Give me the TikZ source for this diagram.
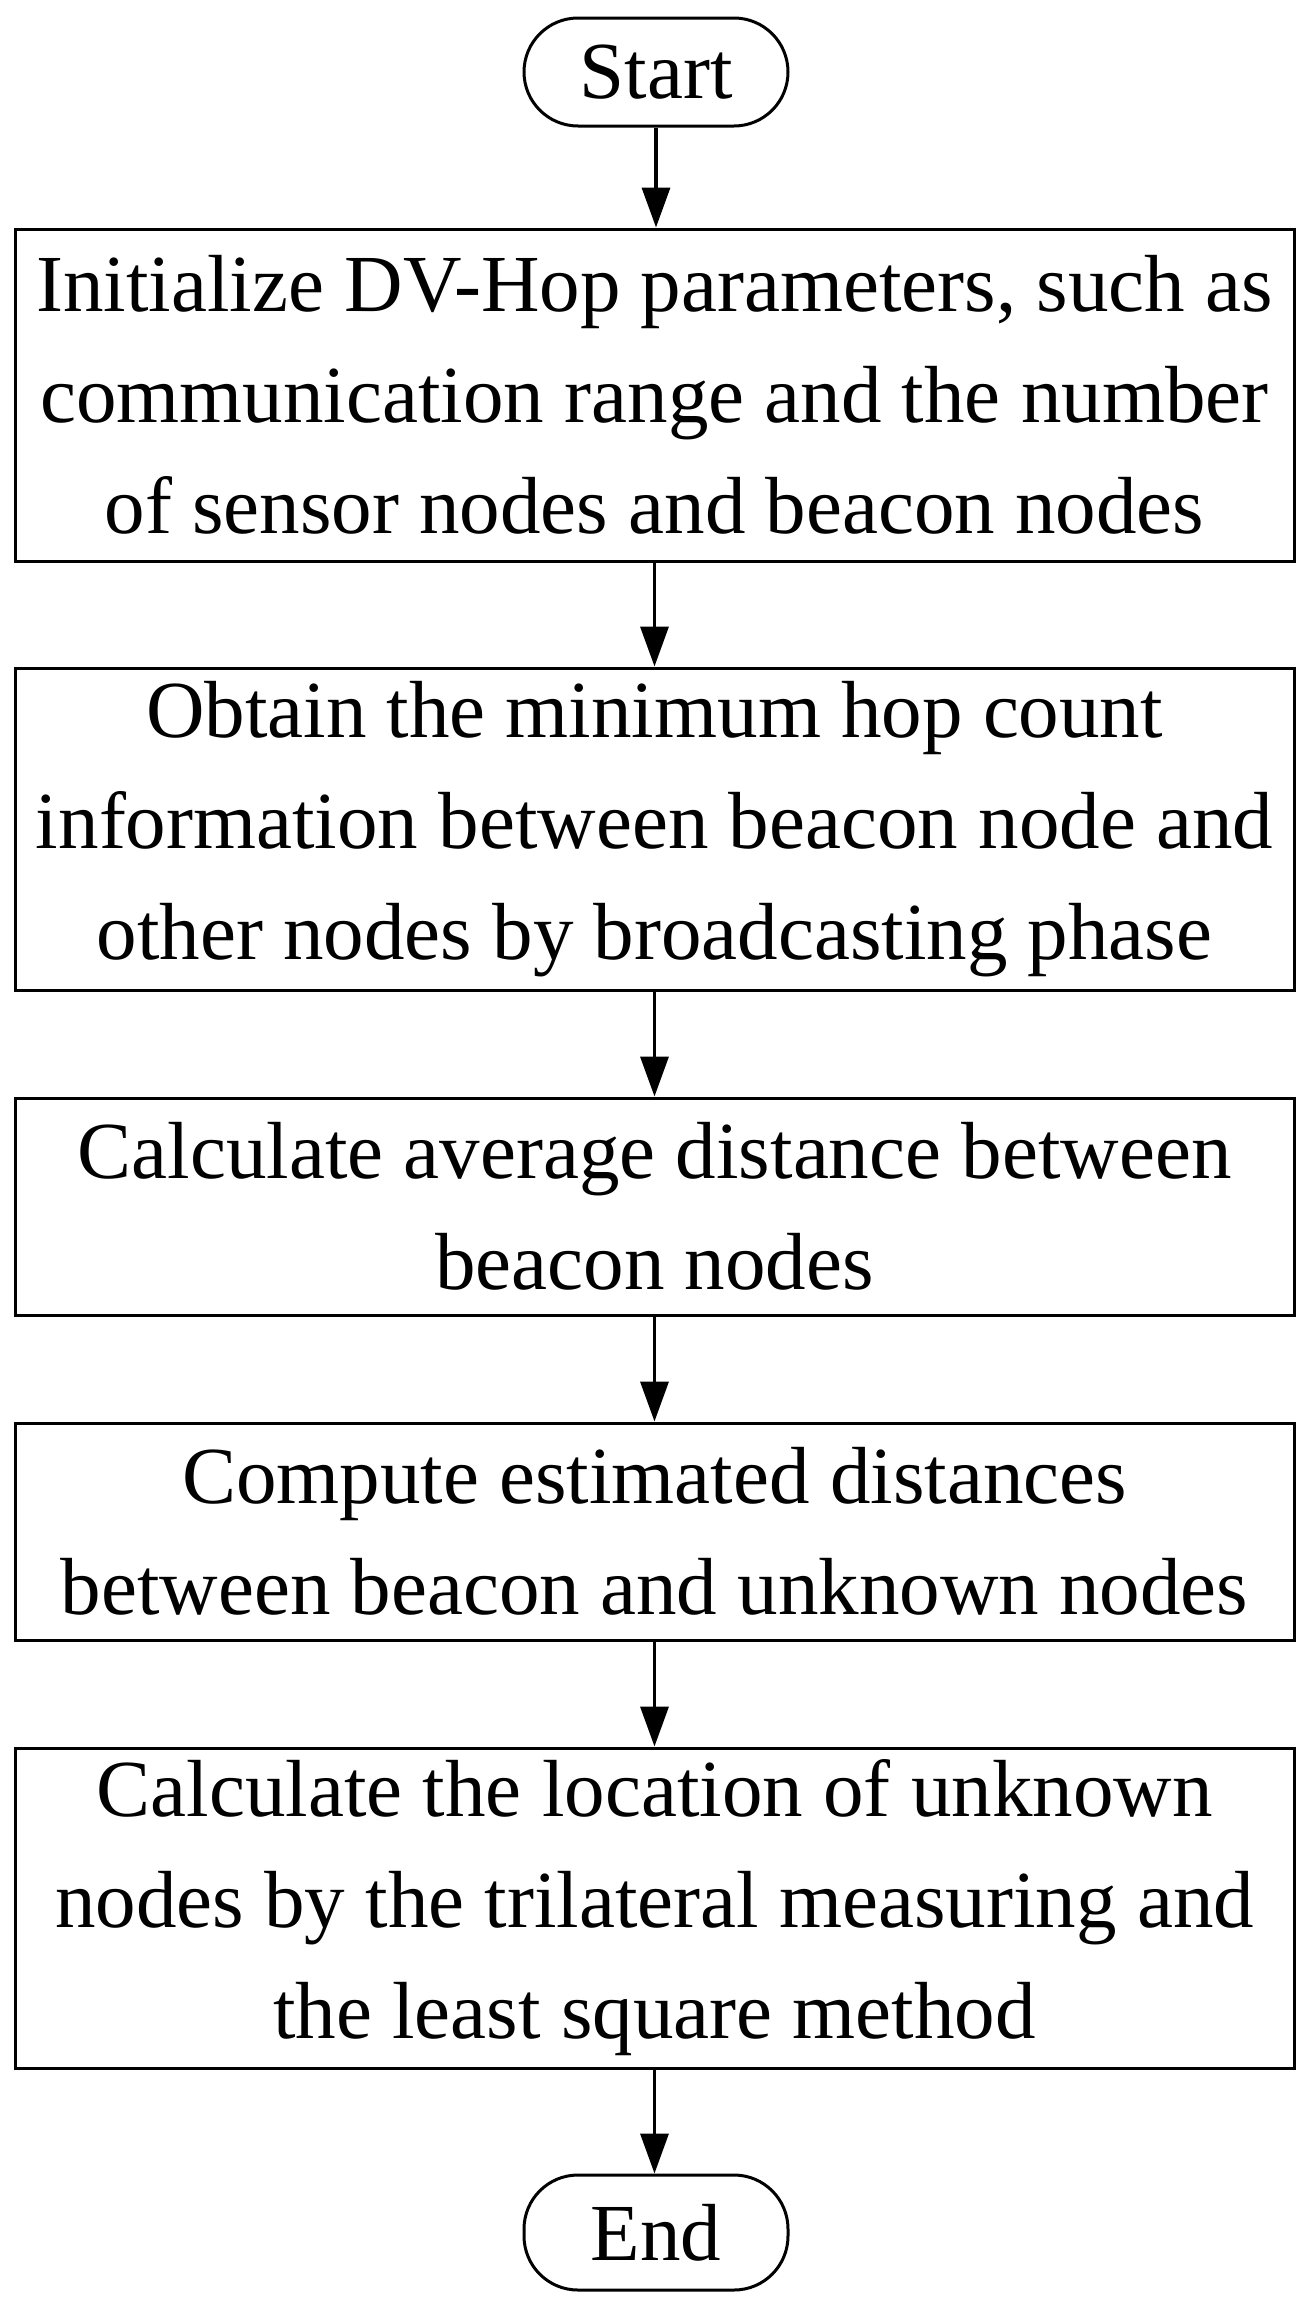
\documentclass[tikz,border=0pt]{standalone}
\usepackage{fontspec}
\setmainfont{Liberation Serif}
\usetikzlibrary{arrows.meta}
\begin{document}
\begin{tikzpicture}[x=1pt,y=-1pt,
  box/.style={draw,line width=3pt,minimum width=1279pt,align=center,font=\fontsize{81}{111}\selectfont,inner sep=0pt},
  term/.style={draw,line width=3pt,rounded corners=54pt,minimum width=264pt,minimum height=108pt,font=\fontsize{81}{111}\selectfont,inner sep=0pt},
  arr/.style={line width=3.5pt,-{Triangle[length=40pt,width=28pt]}}]
\useasboundingbox (0,0) rectangle (1312,2318);
\node[term] (s) at (656,72) {Start};
\node[box,minimum height=332pt] (b1) at (654.5,395) {Initialize DV-Hop parameters, such as\\communication range and the number\\of sensor nodes and beacon nodes};
\node[box,minimum height=322pt] (b2) at (654.5,829) {Obtain the minimum hop count\\information between beacon node and\\other nodes by broadcasting phase};
\node[box,minimum height=217pt] (b3) at (654.5,1206.5) {Calculate average distance between\\beacon nodes};
\node[box,minimum height=217pt] (b4) at (654.5,1531.5) {Compute estimated distances\\between beacon and unknown nodes};
\node[box,minimum height=320pt] (b5) at (654.5,1908) {Calculate the location of unknown\\nodes by the trilateral measuring and\\the least square method};
\node[term,minimum height=115pt] (e) at (656,2232.5) {End};
\draw[arr] (s) -- (s|-b1.north);
\draw[arr] (b1) -- (b1|-b2.north);
\draw[arr] (b2) -- (b2|-b3.north);
\draw[arr] (b3) -- (b3|-b4.north);
\draw[arr] (b4) -- (b4|-b5.north);
\draw[arr] (b5) -- (b5|-e.north);
\end{tikzpicture}
\end{document}
